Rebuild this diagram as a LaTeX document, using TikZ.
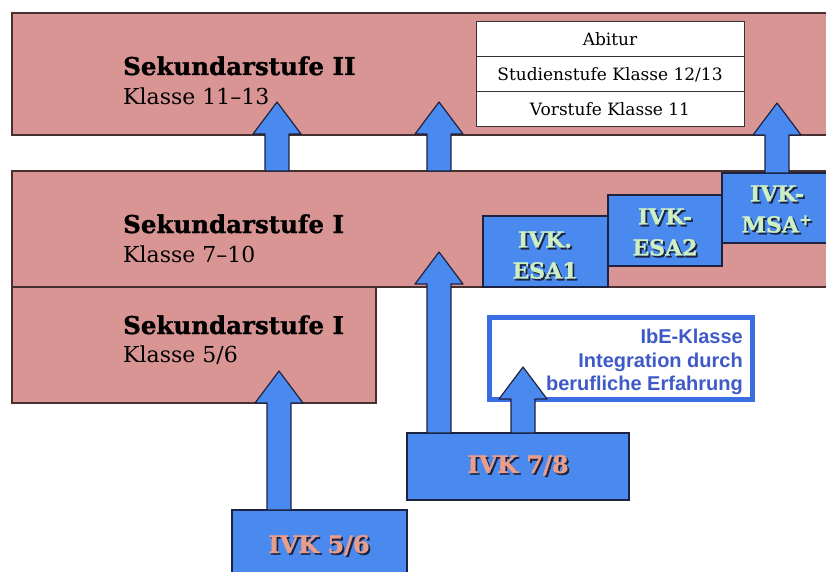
\documentclass[tikz,border=0pt]{standalone}
\usepackage{fontspec}
\setmainfont{DejaVu Serif}
\newfontfamily\ibefont{Liberation Sans}
\newfontfamily\fettfont[FakeBold=1.2]{DejaVu Serif Bold}
\usetikzlibrary{positioning,calc}

\definecolor{rosa}{RGB}{217,149,148}
\definecolor{blau}{RGB}{74,137,238}
\definecolor{ibeblau}{RGB}{58,108,228}
\definecolor{ibetext}{RGB}{62,90,200}
\definecolor{rand}{RGB}{70,48,48}
\definecolor{navy}{RGB}{28,34,64}
\definecolor{mint}{RGB}{204,240,196}
\definecolor{lachs}{RGB}{232,158,140}

\tikzset{
          stufe/.style = {draw = rand, fill = rosa, line width = 1.2pt, inner sep = 0pt, outer sep = 0pt, anchor = north west},
          titel/.style = {anchor = base west, inner sep = 0pt, font = \fettfont\fontsize{24.5}{27}\selectfont},
          klasse/.style = {anchor = base west, inner sep = 0pt, font = \fontsize{22}{25}\selectfont},
          zeile/.style = {draw = black!80, fill = white, line width = 1pt, minimum width = 268pt, minimum height = 35pt, inner sep = 0pt, outer sep = 0pt, font = \fontsize{17}{19}\selectfont},
          ivkbox/.style = {draw = navy, fill = blau, line width = 1.3pt, inner sep = 0pt, outer sep = 0pt, anchor = north west},
          ibebox/.style = {draw = ibeblau, fill = white, line width = 5pt, inner sep = 0pt, outer sep = 0pt, anchor = north west},
          ivkschrift/.style = {align = center, inner sep = 0pt, font = \fettfont\fontsize{#1}{31}\selectfont},
          ibeschrift/.style = {align = right, inner sep = 0pt, text = ibetext, font = \ibefont\bfseries\fontsize{20}{23.5}\selectfont},
          pfeil/.style = {draw = navy, fill = blau, line width = 1.2pt, line join = round}
        }

% Blockpfeil: Schaft ab #1 (nur y), Spitze in #2
\newcommand{\blockpfeil}[2]{%
  \draw[pfeil] let \p1 = (#1), \p2 = (#2) in
    (\x2-12pt,\y1) -- (\x2-12pt,\y2-32pt) -- (\x2-24pt,\y2-32pt) -- (\x2,\y2)
    -- (\x2+24pt,\y2-32pt) -- (\x2+12pt,\y2-32pt) -- (\x2+12pt,\y1) -- cycle;}

% Text mit Schatten nach rechts unten
\newcommand{\schatten}[1]{\leavevmode\rlap{\hspace{1.8pt}\raisebox{-1.8pt}{\color{navy}#1}}#1}

\begin{document}
\begin{tikzpicture}[x=1pt,y=-1pt]
          \useasboundingbox (0,0) rectangle (826,572);
          \clip (0,0) rectangle (826,572);

          % Stufen
          \node[stufe, minimum width = 818pt, minimum height = 122pt] (s2)  at (12,13)  {};
          \node[stufe, minimum width = 818pt, minimum height = 116pt] (s1)  at (12,171) {};
          \node[stufe, minimum width = 364pt, minimum height = 116pt] (s56) at (12,287) {};

          \node[titel]  (s2t)  at (123,75)  {Sekundarstufe II};
          \node[klasse] (s2k)  at (123,105) {Klasse 11–13};
          \node[titel]  (s1t)  at (123,233) {Sekundarstufe I};
          \node[klasse] (s1k)  at (123,262) {Klasse 7–10};
          \node[titel]  (s56t) at (123,334) {Sekundarstufe I};
          \node[klasse] (s56k) at (123,362) {Klasse 5/6};

          \node[zeile, anchor = north west] (abi) at (476,22) {Abitur};
          \node[zeile, below = 0pt of abi]  (stud) {Studienstufe Klasse 12/13};
          \node[zeile, below = 0pt of stud] (vor)  {Vorstufe Klasse 11};

          % IVK
          \node[ivkbox, minimum width = 125pt, minimum height = 71pt] (esa1) at (483,216) {};
          \node[ivkbox, minimum width = 114pt, minimum height = 71pt] (esa2) at (608,195) {};
          \node[ivkbox, minimum width = 110pt, minimum height = 70pt] (msa)  at (722,173) {};
          \node[ibebox, minimum width = 263pt, minimum height = 82pt] (ibe)  at (489.5,317.5) {};
          \node[ivkbox, minimum width = 222pt, minimum height = 67pt] (ivk78) at (407,433) {};
          \node[ivkbox, minimum width = 175pt, minimum height = 80pt] (ivk56) at (232,510) {};

          \coordinate (tip1) at (277,102);
          \coordinate (tip2) at (439,102);
          \coordinate (tip3) at (777,103);
          \coordinate (tip4) at (279,371);
          \coordinate (tip5) at (439,252);
          \coordinate (tip6) at (523,367);

          \foreach \von/\nach in {s1/tip1, s1/tip2, msa/tip3, ivk56/tip4, ivk78/tip5, ivk78/tip6}{
            \blockpfeil{\von.north}{\nach}
          }

          \node[ivkschrift=22, text = mint]  (esa1t)  at (545,256) {\schatten{IVK.}\\\schatten{ESA1}};
          \node[ivkschrift=22, text = mint]  (esa2t)  at (665,233) {\schatten{IVK-}\\\schatten{ESA2}};
          \node[ivkschrift=22, text = mint]  (msat)   at (777,210) {\schatten{IVK-}\\\schatten{MSA\textsuperscript{+}}};
          \node[ivkschrift=24, text = lachs] (ivk78t) at (518,466) {\schatten{IVK 7/8}};
          \node[ivkschrift=24, text = lachs] (ivk56t) at (319,546) {\schatten{IVK 5/6}};

          \node[ibeschrift, anchor = east] (ibet) at (743,362) {IbE-Klasse\\Integration durch\\berufliche Erfahrung};
        \end{tikzpicture}
\end{document}
